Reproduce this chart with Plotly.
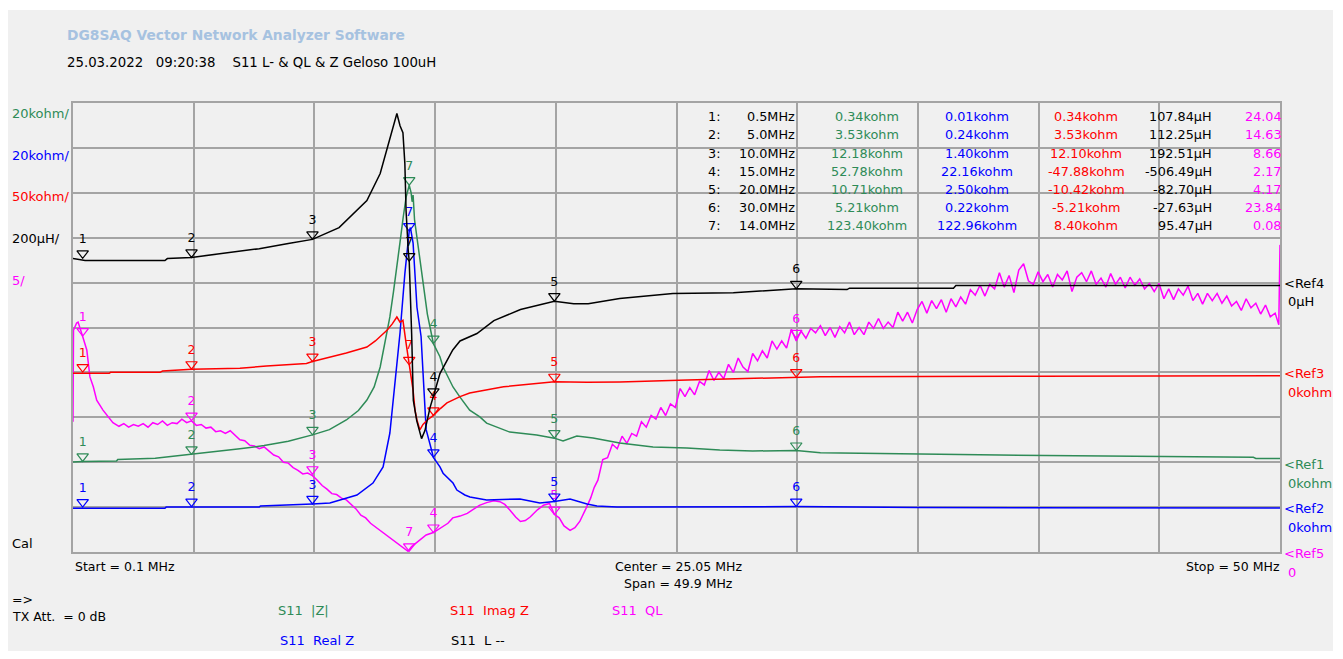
import plotly.graph_objects as go

# ---------------- data ----------------
# |Z| (kohm)
z_freq = [0.1, 0.5, 1.9, 1.95, 3.5, 4.2, 5.0, 6.0, 7.0, 8.0, 9.0, 10.0, 10.7, 11.4, 11.9, 12.25,
          12.55, 12.8, 13.0, 13.2, 13.35, 13.5, 13.62, 13.75, 13.87, 14.0, 14.08, 14.12, 14.16,
          14.22, 14.32, 14.45, 14.57, 14.75, 15.0, 15.27, 15.4, 15.81, 16.1, 16.5, 16.92, 17.2,
          18.16, 19.27, 20.0, 20.36, 20.93, 21.6, 22.7, 24.08, 25.48, 26.84, 28.2, 30.0, 31.0,
          38.4, 48.9, 49.0, 50.0]
z_vals = [0.1, 0.34, 0.5, 1.2, 1.8, 2.6, 3.53, 4.8, 6.0, 7.4, 9.3, 12.18, 14.5, 18.8, 23.0, 27.7,
          33.5, 42.4, 53.0, 64.7, 76.0, 87.0, 98.0, 109.0, 118.0, 123.4, 120.0, 116.0, 119.0,
          108.0, 100.0, 90.0, 80.0, 66.0, 52.78, 47.0, 42.4, 33.5, 29.0, 23.2, 20.2, 17.4,
          13.4, 12.1, 10.71, 9.45, 11.7, 10.8, 8.55, 6.8, 6.3, 5.4, 5.0, 5.21, 4.2,
          3.2, 2.2, 1.7, 1.7]

# Real Z (kohm)
r_freq = [0.1, 3.9, 3.95, 7.8, 7.85, 9.0, 10.0, 10.72, 11.84, 12.5, 12.92, 13.2, 13.41, 13.62,
          13.82, 13.95, 14.0, 14.05, 14.16, 14.32, 14.49, 14.57, 14.7, 14.86, 15.0, 15.27, 15.4,
          15.81, 15.97, 16.3, 16.51, 17.2, 18.0, 18.58, 19.4, 20.0, 20.65, 21.35, 21.76, 22.59,
          30.0, 35.0, 50.0]
r_vals = [-0.5, -0.5, 0.0, 0.0, 0.5, 0.8, 1.4, 1.8, 5.4, 10.7, 17.9, 33.0, 55.0, 77.6,
          104.0, 120.0, 122.96, 124.5, 117.6, 89.0, 76.0, 60.0, 34.5, 28.0, 22.16, 17.9, 15.1,
          10.7, 7.6, 5.4, 4.5, 3.2, 3.4, 3.6, 1.8, 2.5, 3.6, 1.4, 0.5, 0.0,
          0.22, -0.2, -0.4]

# Imag Z (kohm)
x_freq = [0.1, 1.6, 1.65, 3.7, 3.8, 5.0, 7.0, 8.1, 9.75, 10.0, 11.4, 12.25, 12.6, 13.08, 13.3,
          13.49, 13.62, 13.74, 13.87, 13.95, 14.0, 14.09, 14.16, 14.24, 14.32, 14.44, 14.57,
          14.75, 15.0, 15.3, 15.56, 16.1, 16.5, 17.9, 20.0, 21.35, 22.7, 25.5, 28.2, 30.0,
          31.0, 40.0, 50.0]
x_vals = [-1.0, -1.0, 0.1, 0.1, 1.5, 3.53, 4.6, 7.1, 10.0, 12.1, 21.6, 28.3, 35.0, 47.0, 54.0,
          61.7, 56.0, 58.0, 32.7, 17.0, 8.4, -5.0, -20.0, -42.0, -53.0, -64.0, -58.0,
          -53.0, -47.88, -40.0, -34.0, -27.0, -23.0, -16.0, -10.42, -11.0, -10.7, -8.5, -6.6, -5.21,
          -4.8, -4.2, -3.7]

# L (uH)
l_freq = [0.1, 0.6, 3.9, 4.0, 5.0, 6.2, 7.8, 9.0, 10.0, 11.1, 12.25, 12.8, 13.1, 13.4, 13.49,
          13.62, 13.74, 13.82, 13.87, 13.96, 14.0, 14.1, 14.17, 14.31, 14.51, 14.65, 14.86,
          15.0, 15.27, 15.8, 16.1, 16.8, 17.5, 18.6, 20.0, 20.8, 21.4, 22.7, 24.9, 27.4, 29.45,
          30.0, 32.1, 32.2, 36.5, 36.6, 50.0]
l_vals = [107.0, 98.0, 98.0, 107.0, 112.25, 129.0, 151.0, 174.0, 192.51, 245.0, 365.0, 486.0,
          601.0, 722.0, 753.0, 699.0, 668.0, 530.0, 320.0, 143.0, 95.47, -227.0, -525.0, -615.0,
          -695.0, -659.0, -557.0, -506.49, -405.0, -300.0, -260.0, -227.0, -169.0, -120.0,
          -82.7, -94.0, -94.0, -71.0, -49.0, -45.0, -31.0, -27.63, -31.0, -25.0, -25.0, -13.0,
          -13.0]

# QL
q_freq = [0.1, 0.12, 0.25, 0.31, 0.5, 0.67, 0.8, 0.94, 1.08, 1.34, 1.75,
          2.0, 2.2, 2.4, 2.6, 2.8, 3.0, 3.2, 3.4, 3.6, 3.8,
          4.0, 4.2, 4.4, 4.6, 4.8, 5.0, 5.2, 5.4, 5.6, 5.8,
          6.0, 6.2, 6.4, 6.6, 6.8, 7.0, 7.2, 7.4, 7.6, 7.8,
          8.0, 8.2, 8.4, 8.6, 8.8, 9.0, 9.2, 9.4, 9.6, 9.8,
          10.0, 10.2, 10.4, 10.6, 10.8, 11.0, 11.2, 11.4, 11.6, 11.8,
          12.0, 12.2, 12.4, 12.6, 12.8, 13.0, 13.2, 13.4, 13.6, 13.8,
          13.95, 14.1, 14.3, 14.45, 14.7, 15.0, 15.3, 15.6, 15.8, 16.1,
          16.4, 16.7, 16.9, 17.2, 17.5, 17.75, 17.95, 18.15, 18.4, 18.6,
          18.8, 19.0, 19.3, 19.55, 19.8, 20.0, 20.2, 20.4, 20.65, 20.85,
          21.05, 21.3, 21.5, 21.65,
          21.8, 22.0, 22.2, 22.4, 22.6, 22.8, 23.0, 23.2, 23.4, 23.6,
          23.8, 24.0, 24.2, 24.4, 24.6, 24.8, 25.0, 25.2, 25.4, 25.6,
          25.8, 26.0, 26.2, 26.4, 26.6, 26.8, 27.0, 27.2, 27.4, 27.6,
          27.8, 28.0, 28.2, 28.4, 28.6, 28.8, 29.0, 29.2, 29.4, 29.6,
          29.8, 30.0, 30.2, 30.4, 30.6, 30.8, 31.0, 31.2, 31.4, 31.6,
          31.8, 32.0, 32.2, 32.4, 32.6, 32.8, 33.0, 33.2, 33.4, 33.6,
          33.8, 34.0, 34.2, 34.4, 34.6, 34.8, 35.0, 35.2, 35.4, 35.6,
          35.8, 36.0, 36.2, 36.4, 36.6, 36.8, 37.0, 37.2, 37.4, 37.6,
          37.8, 38.0, 38.2, 38.4, 38.6, 38.8, 39.0, 39.2, 39.4, 39.6,
          39.8, 40.0, 40.2, 40.4, 40.6, 40.8, 41.0, 41.2, 41.4, 41.6,
          41.8, 42.0, 42.2, 42.4, 42.6, 42.8, 43.0, 43.2, 43.4, 43.6,
          43.8, 44.0, 44.2, 44.4, 44.6, 44.8, 45.0, 45.2, 45.4, 45.6,
          45.8, 46.0, 46.2, 46.4, 46.6, 46.8, 47.0, 47.2, 47.4, 47.6,
          47.8, 48.0, 48.2, 48.4, 48.6, 48.8, 49.0, 49.2, 49.4, 49.6,
          49.8, 49.95, 50.0]
q_vals = [14.5, 24.7, 25.5, 25.6, 24.0, 22.5, 19.5, 18.4, 16.9, 15.8, 14.4,
          14.0, 14.3, 13.9, 14.2, 14.0, 14.3, 13.9, 14.4, 14.2, 14.6,
          14.1, 14.4, 14.3, 14.8, 14.4, 14.6, 14.1, 14.2, 13.8, 13.9,
          13.4, 13.5, 13.2, 13.5, 13.0, 12.5, 12.4, 11.9, 11.8, 11.5,
          11.7, 11.3, 10.8, 10.6, 10.0, 9.9, 9.4, 9.1, 8.7, 8.8,
          8.5, 8.0, 7.4, 7.0, 6.5, 6.4, 6.0, 5.8, 5.3, 4.8,
          4.1, 3.8, 3.2, 2.8, 2.4, 2.0, 1.6, 1.1, 0.8, 0.4,
          0.08, 0.6, 1.0, 1.3, 1.9, 2.17, 2.7, 3.2, 3.8, 4.0,
          4.3, 4.8, 5.2, 5.5, 5.7, 5.6, 5.3, 4.7, 3.9, 3.4,
          3.5, 3.9, 4.7, 5.2, 5.4, 4.2, 3.8, 2.9, 2.4, 2.7,
          3.4, 4.8, 6.0, 7.2,
          8.0, 10.3, 10.5, 12.0, 11.5, 12.9, 12.1, 13.2, 12.9, 14.5,
          13.9, 15.2, 14.8, 16.1, 15.2, 16.5, 16.1, 18.2, 17.3, 18.3,
          17.5, 19.0, 18.6, 20.2, 19.1, 20.0, 19.3, 20.9, 20.0, 21.6,
          20.6, 20.1, 22.1, 21.3, 22.4, 21.6, 23.5, 22.6, 23.5, 22.7,
          24.8, 23.5, 24.6, 23.8, 24.9, 24.4, 25.2, 24.1, 25.0, 23.9,
          25.1, 24.4, 25.6, 24.2, 25.0, 24.2, 25.6, 24.9, 26.0, 24.9,
          25.6, 25.0, 26.7, 25.7, 26.7, 25.5, 27.0, 27.9, 26.6, 28.0,
          27.1, 28.1, 26.7, 28.2, 27.3, 28.4, 27.6, 29.2, 28.6, 29.7,
          28.5, 29.8, 29.3, 31.1, 29.5, 30.8, 28.9, 31.4, 32.1, 30.2,
          29.8, 31.2, 30.1, 30.9, 29.5, 30.9, 30.3, 31.3, 29.0, 30.6,
          31.1, 30.1, 31.3, 29.8, 30.5, 29.5, 31.0, 29.8, 30.6, 29.4,
          30.6, 29.7, 30.4, 29.3, 29.9, 29.0, 29.9, 28.2, 29.3, 28.1,
          29.3, 28.6, 29.6, 28.0, 28.8, 27.6, 28.8, 28.0, 28.8, 27.7,
          28.5, 27.4, 27.9, 26.9, 28.2, 27.2, 27.7, 26.5, 27.5, 26.2,
          26.6, 25.3, 34.2]

# markers (from the marker table)
mk_labels = ["1", "2", "3", "4", "5", "6", "7"]
mk_freq = [0.5, 5.0, 10.0, 15.0, 20.0, 30.0, 14.0]
mk_z = [0.34, 3.53, 12.18, 52.78, 10.71, 5.21, 123.40]
mk_r = [0.01, 0.24, 1.40, 22.16, 2.50, 0.22, 122.96]
mk_x = [0.34, 3.53, 12.10, -47.88, -10.42, -5.21, 8.40]
mk_l = [107.84, 112.25, 192.51, -506.49, -82.70, -27.63, 95.47]
mk_q = [24.04, 14.63, 8.66, 2.17, 4.17, 23.84, 0.08]

f_start, f_stop = 0.1, 50.0

# ---------------- layout geometry ----------------
W, H = 1343, 659
PL, PR, PT, PB = 73, 1280, 103, 552
PW, PH = PR - PL, PB - PT
NDIV = 10
FONT = "DejaVu Sans"
GRID = "#a4a4a4"
BG = "#f0f0f0"
GREEN, BLUE, RED, BLACK, MAG = "#2e8b57", "#0000ff", "#ff0000", "#000000", "#ff00ff"


def px(x):
    return (x - PL) / PW


def py(y):
    return (PB - y) / PH


fig = go.Figure()

# trace definitions: freq, vals, marker vals, colour, units/div, ref division, axis
specs = [
    (z_freq, z_vals, mk_z, GREEN, 20.0, 2, "y2"),
    (r_freq, r_vals, mk_r, BLUE, 20.0, 1, "y3"),
    (x_freq, x_vals, mk_x, RED, 50.0, 4, "y4"),
    (l_freq, l_vals, mk_l, BLACK, 200.0, 6, "y5"),
    (q_freq, q_vals, mk_q, MAG, 5.0, 0, "y"),
]

MK = 10
for fr, vals, mkv, col, per, ref, ax in specs:
    fig.add_trace(go.Scatter(x=fr, y=vals, mode="lines", xaxis="x", yaxis=ax,
                             line=dict(color=col, width=1.5), hoverinfo="skip"))
for fr, vals, mkv, col, per, ref, ax in specs:
    off = (MK / 2) * per / (PH / NDIV)
    fig.add_trace(go.Scatter(x=mk_freq, y=[v + off for v in mkv], xaxis="x", yaxis=ax,
                             mode="markers+text", text=mk_labels,
                             textposition="top center",
                             textfont=dict(family=FONT, size=12.5, color=col),
                             marker=dict(symbol="triangle-down-open", size=MK,
                                         color=col, line=dict(color=col, width=1.2)),
                             cliponaxis=False, hoverinfo="skip"))

layout_axes = {}
for fr, vals, mkv, col, per, ref, ax in specs:
    rng = [-ref * per, (NDIV - ref) * per]
    if ax == "y":
        layout_axes["yaxis"] = dict(range=rng, dtick=per, tick0=0, showgrid=True,
                                    gridcolor=GRID, gridwidth=2, showticklabels=False,
                                    ticks="", zeroline=False, showline=True, mirror=True,
                                    linecolor=GRID, linewidth=2, fixedrange=True)
    else:
        layout_axes["yaxis" + ax[1:]] = dict(range=rng, overlaying="y", showgrid=False,
                                             showticklabels=False, ticks="", zeroline=False,
                                             showline=False, fixedrange=True)

fig.update_layout(
    width=W, height=H, autosize=False,
    margin=dict(l=PL, r=W - PR, t=PT, b=H - PB, pad=0),
    paper_bgcolor="white", plot_bgcolor=BG,
    showlegend=False,
    xaxis=dict(range=[f_start, f_stop], tick0=f_start, dtick=(f_stop - f_start) / NDIV,
               showgrid=True, gridcolor=GRID, gridwidth=2, showticklabels=False,
               ticks="", zeroline=False, showline=True, mirror=True,
               linecolor=GRID, linewidth=2, fixedrange=True),
    **layout_axes,
)

# grey window panel
fig.add_shape(type="rect", xref="paper", yref="paper", x0=px(8), x1=px(1333),
              y0=py(651), y1=py(10), fillcolor=BG, line=dict(width=0), layer="below")

ann = []


def text(x, y, s, color=BLACK, size=12.5, xanchor="left", bold=False):
    if bold:
        s = "<b>" + s + "</b>"
    ann.append(dict(x=px(x), y=py(y), xref="paper", yref="paper", text=s,
                    showarrow=False, xanchor=xanchor, yanchor="middle",
                    font=dict(family=FONT, size=size, color=color)))


NB = "\u00a0"
text(65, 35, "DG8SAQ Vector Network Analyzer Software", "#a6c2e0", 13.8, bold=True)
text(65, 62, "25.03.2022" + NB * 3 + "09:20:38" + NB * 4 + "S11 L- & QL & Z Geloso 100uH", BLACK, 13.3)

# left scale labels
text(10, 113, "20kohm/", GREEN, 13)
text(10, 155, "20kohm/", BLUE, 13)
text(10, 197, "50kohm/", RED, 13)
text(10, 238, "200µH/", BLACK, 13)
text(10, 280, "5/", MAG, 13)

# right reference labels
text(1282, 283, "&lt;Ref4", BLACK, 13)
text(1286, 301, "0µH", BLACK, 13)
text(1282, 373, "&lt;Ref3", RED, 13)
text(1286, 392, "0kohm", RED, 13)
text(1282, 464, "&lt;Ref1", GREEN, 13)
text(1286, 483, "0kohm", GREEN, 13)
text(1282, 508, "&lt;Ref2", BLUE, 13)
text(1286, 527, "0kohm", BLUE, 13)
text(1282, 553, "&lt;Ref5", MAG, 13)
text(1286, 572, "0", MAG, 13)

# marker table
for i in range(len(mk_labels)):
    yy = 116.7 + i * 18.2
    text(722, yy, mk_labels[i] + ":", BLACK, 12.8, "right")
    text(797, yy, "%.1fMHz" % mk_freq[i], BLACK, 12.8, "right")
    text(867, yy, "%.2fkohm" % mk_z[i], GREEN, 12.8, "center")
    text(977, yy, "%.2fkohm" % mk_r[i], BLUE, 12.8, "center")
    text(1086, yy, "%.2fkohm" % mk_x[i], RED, 12.8, "center")
    text(1214, yy, "%.2fµH" % mk_l[i], BLACK, 12.8, "right")
    text(1284, yy, "%.2f" % mk_q[i], MAG, 12.8, "right")

# bottom texts
text(10, 543, "Cal", BLACK, 13)
text(73, 566, "Start = %.1f MHz" % f_start, BLACK, 12.5)
text(678, 566, "Center = %.2f MHz" % ((f_start + f_stop) / 2), BLACK, 12.5, "center")
text(678, 583, "Span = %.1f MHz" % (f_stop - f_start), BLACK, 12.5, "center")
text(1282, 566, "Stop = %g MHz" % f_stop, BLACK, 12.5, "right")
text(10, 599, "=&gt;", BLACK, 12.5)
text(10, 616, "TX Att." + NB * 2 + "= 0 dB", BLACK, 12.5)
text(276, 610, "S11" + NB * 2 + "|Z|", GREEN, 13)
text(448, 610, "S11" + NB * 2 + "Imag Z", RED, 13)
text(610, 610, "S11" + NB * 2 + "QL", MAG, 13)
text(278, 640, "S11" + NB * 2 + "Real Z", BLUE, 13)
text(449, 640, "S11" + NB * 2 + "L --", BLACK, 13)

fig.update_layout(annotations=ann)

fig.write_html("out.html", include_plotlyjs=True, config={"displayModeBar": False})
